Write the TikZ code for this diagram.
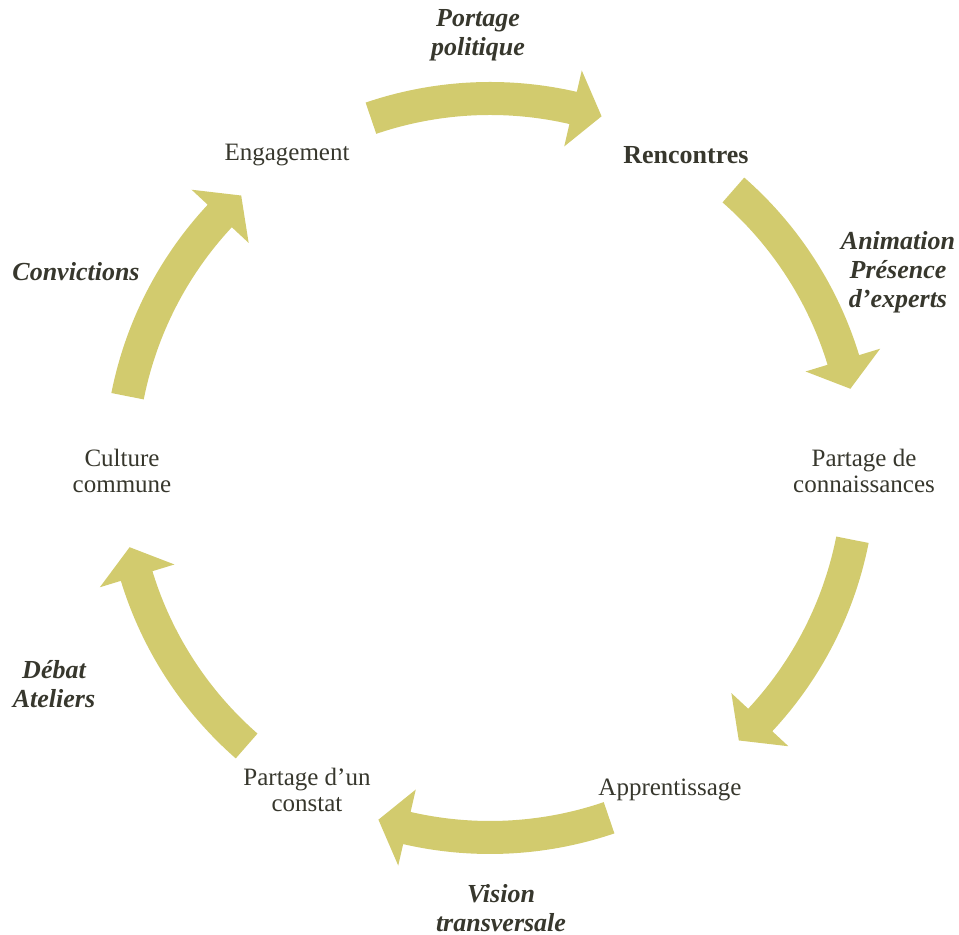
\documentclass[tikz,border=0pt]{standalone}
\usepackage{fontspec}
\setmainfont{Liberation Serif}
\definecolor{arrowfill}{RGB}{210,203,110}
\definecolor{textgray}{RGB}{55,55,45}

\begin{document}
\begin{tikzpicture}[x=0.5pt,y=0.5pt,
  stage/.style={align=center,text=textgray,inner sep=0pt,
    font=\fontsize{12.5}{13}\selectfont},
  means/.style={align=center,text=textgray,inner sep=0pt,
    font=\fontsize{13}{14.5}\selectfont\bfseries\itshape}]
  \useasboundingbox (0,0) rectangle (959,935);
  \begin{scope}[shift={(490,467)}]
    % curved block arrows, clockwise
    \foreach \a [evaluate=\a as \t using \a+18.8,
                 evaluate=\a as \b using \a-13,
                 evaluate=\a as \p using \a-17.6] in {90,30,-30,-90,-150,150}
      \fill[arrowfill] (\t:386) arc[start angle=\t,end angle=\b,radius=386]
        -- (\b:408) -- (\p:369) -- (\b:330) -- (\b:353)
        arc[start angle=\b,end angle=\t,radius=353] -- cycle;

    % stages
    \node[stage] (eng) at (-203,313) {Engagement};
    \node[stage,font=\fontsize{13}{13}\selectfont\bfseries] (renc) at (196,313) {Rencontres};
    \node[stage] (partcon) at (374,-3) {Partage de\\connaissances};
    \node[stage] (appr) at (180,-322) {Apprentissage};
    \node[stage] (constat) at (-183,-322) {Partage d’un\\constat};
    \node[stage] (culture) at (-368,-3) {Culture\\commune};

    % means
    \node[means] (portage) at (-12,433) {Portage\\politique};
    \node[means] (anim) at (408,196) {Animation\\Présence\\d’experts};
    \node[means] (vision) at (11,-440) {Vision\\transversale};
    \node[means] (debat) at (-436,-216) {Débat\\Ateliers};
    \node[means] (conv) at (-414,196) {Convictions};
  \end{scope}
\end{tikzpicture}
\end{document}
